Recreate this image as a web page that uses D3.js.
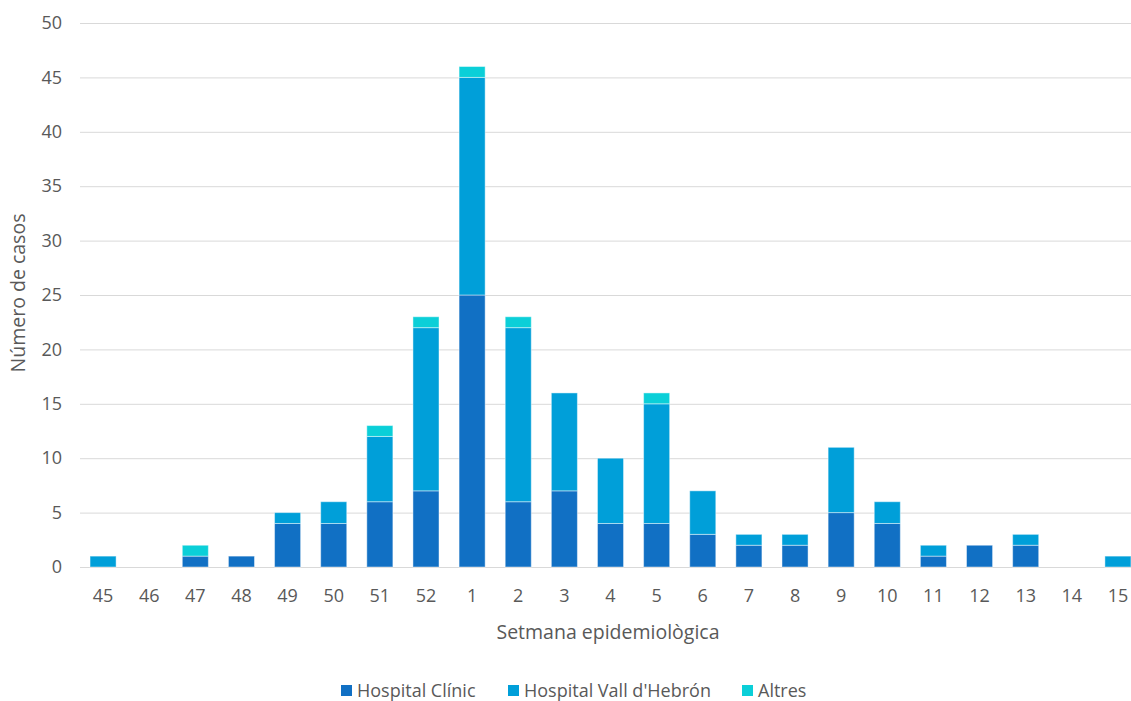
<!DOCTYPE html>
<html>
<head>
<meta charset="utf-8">
<script src="https://cdn.jsdelivr.net/npm/d3@7"></script>
<style>
  html, body { margin: 0; padding: 0; background: #fff; }
  svg { display: block; font-family: "Open Sans", "Noto Sans", sans-serif; }
</style>
</head>
<body>
<svg id="chart" width="1131" height="701"></svg>
<script>
// Epidemiological weeks
const weeks = ["45","46","47","48","49","50","51","52","1","2","3","4","5","6","7","8","9","10","11","12","13","14","15"];
// Cases per week and hospital
const clinic     = [0,0,1,1,4,4,6,7,25,6,7,4,4,3,2,2,5,4,1,2,2,0,0];
const vallHebron = [1,0,0,0,1,2,6,15,20,16,9,6,11,4,1,1,6,2,1,0,1,0,1];
const altres     = [0,0,1,0,0,0,1,1,1,1,0,0,1,0,0,0,0,0,0,0,0,0,0];
const seriesNames = ["Hospital Clínic", "Hospital Vall d'Hebrón", "Altres"];
const seriesColors = ["#1170c4", "#009fd9", "#0bcfd8"];
const yTicks = [0,5,10,15,20,25,30,35,40,45,50];

const svg = d3.select("#chart");
const plot = { left: 80, right: 1141, top: 23, bottom: 567 };
const textColor = "#595959";

const rows = weeks.map((w, i) => ({ week: w, c: clinic[i], v: vallHebron[i], a: altres[i] }));
const stacked = d3.stack().keys(["c", "v", "a"])(rows);

const x = d3.scaleBand().domain(weeks).range([plot.left, plot.right]).paddingInner(0.435).paddingOuter(0.2175);
const y = d3.scaleLinear().domain([0, 50]).range([plot.bottom, plot.top]);

// Gridlines
svg.append("g")
  .selectAll("line")
  .data(yTicks)
  .join("line")
  .attr("x1", plot.left)
  .attr("x2", 1131)
  .attr("y1", d => y(d) + 0.5)
  .attr("y2", d => y(d) + 0.5)
  .attr("stroke", "#d9d9d9")
  .attr("stroke-width", 1);

// Y axis labels
const yAxis = d3.axisLeft(y).tickValues(yTicks).tickSize(0).tickPadding(0);
svg.append("g")
  .attr("transform", `translate(62,0)`)
  .call(yAxis)
  .call(g => g.select(".domain").remove())
  .call(g => g.selectAll("text")
    .attr("fill", textColor)
    .style("font-size", "18px")
    .style("font-family", "'Open Sans', 'Noto Sans', sans-serif"));

// Stacked bars
svg.append("g")
  .selectAll("g")
  .data(stacked)
  .join("g")
  .attr("fill", (d, i) => seriesColors[i])
  .selectAll("rect")
  .data(d => d.filter(s => s[1] - s[0] > 0))
  .join("rect")
  .attr("x", d => x(d.data.week))
  .attr("width", x.bandwidth())
  .attr("y", d => y(d[1]))
  .attr("height", d => y(d[0]) - y(d[1]))
  .attr("stroke", "#ffffff")
  .attr("stroke-opacity", 0.45)
  .attr("stroke-width", 1);

// X axis labels
const xAxis = d3.axisBottom(x).tickSize(0).tickPadding(0);
svg.append("g")
  .attr("transform", `translate(0,589)`)
  .call(xAxis)
  .call(g => g.select(".domain").remove())
  .call(g => g.selectAll("text")
    .attr("fill", textColor)
    .style("font-size", "18px")
    .style("font-family", "'Open Sans', 'Noto Sans', sans-serif"));

// Axis titles
svg.append("text")
  .attr("x", 608)
  .attr("y", 639)
  .attr("text-anchor", "middle")
  .attr("fill", textColor)
  .style("font-size", "19.5px")
  .text("Setmana epidemiològica");

svg.append("text")
  .attr("transform", "translate(25,293) rotate(-90)")
  .attr("text-anchor", "middle")
  .attr("fill", textColor)
  .style("font-size", "19.5px")
  .text("Número de casos");

// Legend
const legendX = [341, 508, 742];
const legend = svg.append("g")
  .selectAll("g")
  .data(seriesNames)
  .join("g")
  .attr("transform", (d, i) => `translate(${legendX[i]},690)`);
legend.append("rect")
  .attr("x", 0).attr("y", -5)
  .attr("width", 11).attr("height", 11)
  .attr("fill", (d, i) => seriesColors[i]);
legend.append("text")
  .attr("x", 16)
  .attr("y", 6.5)
  .attr("fill", textColor)
  .style("font-size", "18px")
  .text(d => d);
</script>
</body>
</html>
